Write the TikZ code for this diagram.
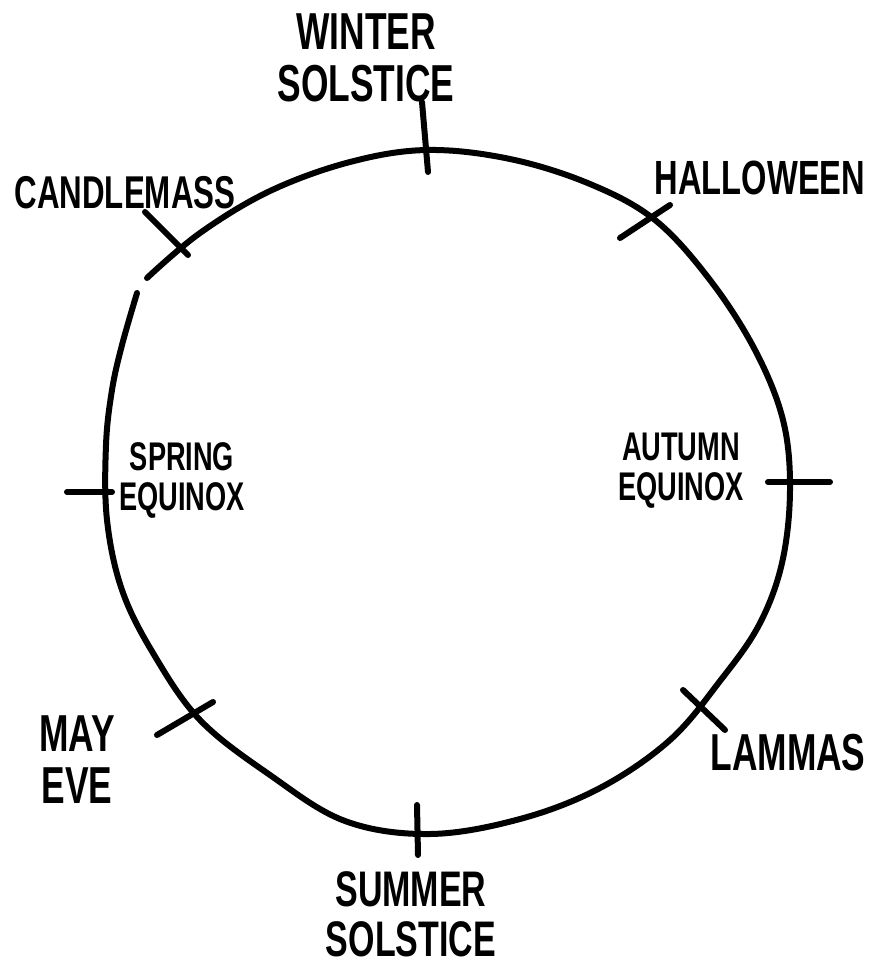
\documentclass[tikz,border=0pt]{standalone}
\usepackage{fontspec}
\setmainfont{Liberation Sans}[FakeStretch=0.68]

\begin{document}
\begin{tikzpicture}[x=1pt,y=-1pt,line width=6pt,line cap=round,line join=round,
    lbl/.style={font=\bfseries\fontsize{#1}{#1}\selectfont,align=center,inner sep=0pt}]
  \useasboundingbox (0,0) rectangle (877,966);

  % the wheel, with its small break near candlemass
  \draw plot[smooth,tension=0.6] coordinates {(147,278) (200,233) (270,191) (350,162)
    (427,150) (510,159) (590,184) (655,220) (710,280) (755,350) (783,420) (790,490)
    (782,563) (759,625) (720,681) (670,740) (600,788) (520,819) (430,834) (345,821)
    (270,775) (200,720) (153,653) (122,590) (107,520) (106,445) (112,390) (122,345)
    (137,293)};

  % tick ends
  \coordinate (win1) at (422,102);  \coordinate (win2) at (428,172);
  \coordinate (hal1) at (670,205);  \coordinate (hal2) at (620,238);
  \coordinate (aut1) at (768,482);  \coordinate (aut2) at (830,482);
  \coordinate (lam1) at (683,690);  \coordinate (lam2) at (725,730);
  \coordinate (sum1) at (417,805);  \coordinate (sum2) at (418,855);
  \coordinate (may1) at (213,702);  \coordinate (may2) at (157,735);
  \coordinate (spr1) at (67,492);   \coordinate (spr2) at (112,492);
  \coordinate (can1) at (145,212);  \coordinate (can2) at (188,255);

  \path (win1) edge (win2)
        (hal1) edge (hal2)
        (aut1) edge (aut2)
        (lam1) edge (lam2)
        (sum1) edge (sum2)
        (may1) edge (may2)
        (spr1) edge (spr2)
        (can1) edge (can2);

  \node[lbl=52] (winter) at (366,58) {WINTER\\SOLSTICE};
  \node[lbl=48] (halloween) at (760,178) {HALLOWEEN};
  \node[lbl=40] (autumn) at (681,471) {AUTUMN\\EQUINOX};
  \node[lbl=52] (lammas) at (788,753) {LAMMAS};
  \node[lbl=50] (summer) at (411,914) {SUMMER\\SOLSTICE};
  \node[lbl=52] (mayeve) at (77,760) {MAY\\EVE};
  \node[lbl=40] (spring) at (182,480) {SPRING\\EQUINOX};
  \node[lbl=46] (candlemass) at (125,193) {CANDLEMASS};
\end{tikzpicture}
\end{document}
